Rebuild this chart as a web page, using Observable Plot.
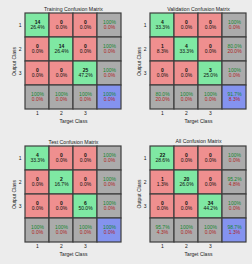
<!DOCTYPE html>
<html>
<head>
<meta charset="utf-8">
<script src="https://cdn.jsdelivr.net/npm/d3@7"></script>
<script src="https://cdn.jsdelivr.net/npm/@observablehq/plot@0.6"></script>
<style>
  html, body { margin: 0; padding: 0; background: #ececec; }
  #fig { position: relative; width: 252px; height: 264px; overflow: hidden; background: #ececec; }
  .panel { position: absolute; width: 126px; height: 132px; }
  .panel svg { display: block; }
</style>
</head>
<body>
<div id="fig"></div>
<script>
// Class labels shared by all four matrices
const classes = ["1", "2", "3"];
const titles = [
  "Training Confusion Matrix",
  "Validation Confusion Matrix",
  "Test Confusion Matrix",
  "All Confusion Matrix"
];

// Counts: rows = output class, columns = target class
const trainingCounts   = [[14, 0, 0], [0, 14, 0], [0, 0, 25]];
const validationCounts = [[4, 0, 0], [1, 4, 0], [0, 0, 3]];
const testCounts       = [[4, 0, 0], [0, 2, 0], [0, 0, 6]];
const allCounts        = [[22, 0, 0], [1, 20, 0], [0, 0, 34]];

const SUM = "Σ"; // key for the summary row / column
const kinds = ["hit", "miss", "summary", "overall"];
const kindFills = ["#7fe8a3", "#ef8f8f", "#ababab", "#8493ef"];

const fmtPct = v => (Math.abs(v - 100) < 1e-9 ? "100%" : v.toFixed(1) + "%");

function buildCells(counts) {
  const total = d3.sum(counts.flat());
  const cells = [];
  counts.forEach((row, i) => row.forEach((n, j) => cells.push({
    out: classes[i], target: classes[j], kind: i === j ? "hit" : "miss",
    top: String(n), bottom: fmtPct(100 * n / total)
  })));
  // per output class (row) accuracy
  counts.forEach((row, i) => {
    const p = 100 * row[i] / d3.sum(row);
    cells.push({out: classes[i], target: SUM, kind: "summary", top: fmtPct(p), bottom: fmtPct(100 - p)});
  });
  // per target class (column) accuracy
  classes.forEach((c, j) => {
    const p = 100 * counts[j][j] / d3.sum(counts, r => r[j]);
    cells.push({out: SUM, target: c, kind: "summary", top: fmtPct(p), bottom: fmtPct(100 - p)});
  });
  const p = 100 * d3.sum(classes, (c, i) => counts[i][i]) / total;
  cells.push({out: SUM, target: SUM, kind: "overall", top: fmtPct(p), bottom: fmtPct(100 - p)});
  return cells;
}

function matrix(title, counts, marginLeft, marginTop) {
  const cells = buildCells(counts);
  const domain = [...classes, SUM];
  const counted = cells.filter(d => d.kind === "hit" || d.kind === "miss");
  const totals = cells.filter(d => d.kind === "summary" || d.kind === "overall");
  const grid = 96;
  return Plot.plot({
    width: 126,
    height: 132,
    marginLeft,
    marginTop,
    marginRight: 126 - marginLeft - grid,
    marginBottom: 132 - marginTop - grid,
    style: {background: "transparent", fontFamily: "'Liberation Sans', Arial, sans-serif", fontSize: "5px", color: "#1a1a1a"},
    x: {domain, padding: 0},
    y: {domain, padding: 0},
    color: {domain: kinds, range: kindFills},
    marks: [
      Plot.cell(cells, {x: "target", y: "out", fill: "kind", stroke: "#3c3c3c", strokeWidth: 1.2}),
      Plot.text(counted, {x: "target", y: "out", text: "top", dy: -3.2, fontWeight: "bold", fill: "#111"}),
      Plot.text(counted, {x: "target", y: "out", text: "bottom", dy: 2.3, fill: "#111"}),
      Plot.text(totals, {x: "target", y: "out", text: "top", dy: -3.2, fill: "#17872f",
        fontWeight: d => d.kind === "overall" ? "bold" : "normal"}),
      Plot.text(totals, {x: "target", y: "out", text: "bottom", dy: 2.3, fill: "#b02424",
        fontWeight: d => d.kind === "overall" ? "bold" : "normal"}),
      Plot.axisX({tickSize: 0, tickPadding: 2, tickFormat: d => (d === SUM ? "" : d),
        label: "Target Class", labelAnchor: "center", labelOffset: 13.5}),
      Plot.axisY({tickSize: 0, tickPadding: 4, tickFormat: d => (d === SUM ? "" : d),
        label: "Output Class", labelAnchor: "center", labelOffset: 13}),
      Plot.text([title], {text: d => d, frameAnchor: "top", dy: -6.5, fontSize: 5.2, fill: "#222"})
    ]
  });
}

const fig = document.getElementById("fig");
const layout = [
  {counts: trainingCounts,   left: 0,   top: 0,   ml: 25, mt: 13},
  {counts: validationCounts, left: 126, top: 0,   ml: 24, mt: 13},
  {counts: testCounts,       left: 0,   top: 132, ml: 25, mt: 14},
  {counts: allCounts,        left: 126, top: 132, ml: 24, mt: 13.5}
];
layout.forEach((p, k) => {
  const div = document.createElement("div");
  div.className = "panel";
  div.style.left = p.left + "px";
  div.style.top = p.top + "px";
  div.appendChild(matrix(titles[k], p.counts, p.ml, p.mt));
  fig.appendChild(div);
});
</script>
</body>
</html>
